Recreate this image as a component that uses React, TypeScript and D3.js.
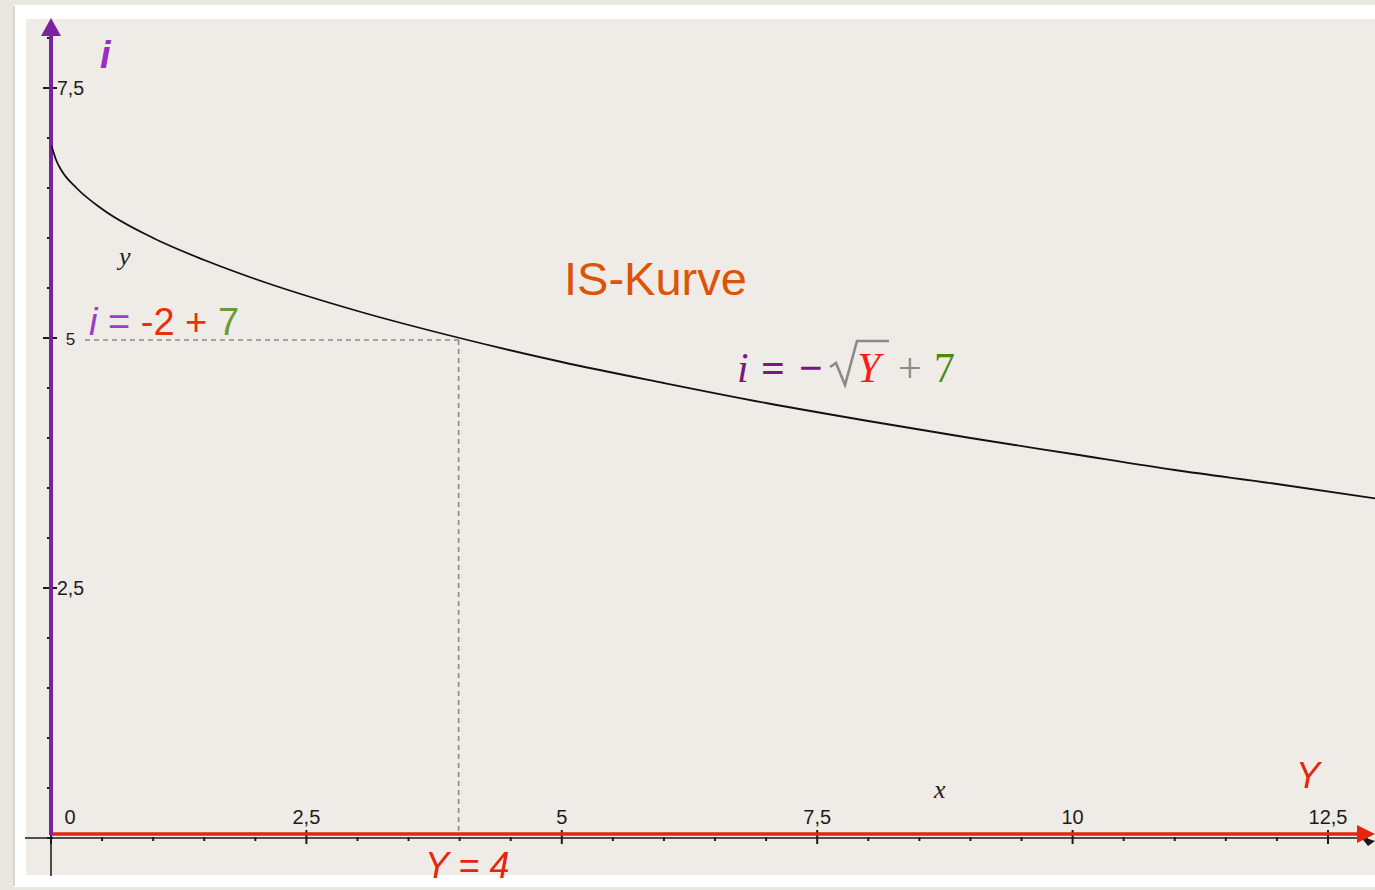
import React from 'react';
import * as d3 from 'd3';

// Y (output) and i (interest rate) along the IS curve
const curveY = [0.006, 0.05, 0.1, 0.25, 0.5, 1, 1.5, 2, 3, 4, 5, 6, 7, 8, 9, 10, 11, 12, 13];
const curveI = [6.92, 6.78, 6.68, 6.5, 6.29, 6.0, 5.78, 5.59, 5.27, 5.0, 4.76, 4.55, 4.35, 4.17, 4.0, 3.84, 3.68, 3.54, 3.39];

const xTickValues = [0, 2.5, 5, 7.5, 10, 12.5];
const xTickLabels = ['0', '2,5', '5', '7,5', '10', '12,5'];
const yTickValues = [2.5, 5, 7.5];
const yTickLabels = ['2,5', '5', '7,5'];

const pointY = 4;
const pointI = 5;

const W = 1375;
const H = 890;

export default function App() {
  const x = d3.scaleLinear().domain([0, 12.5]).range([51, 1328]);
  const y = d3.scaleLinear().domain([0, 7.5]).range([838, 88]);

  const pts: [number, number][] = curveY.map((d, k) => [d, curveI[k]]);
  const line = d3.line<[number, number]>()
    .x(d => x(d[0]))
    .y(d => y(d[1]))
    .curve(d3.curveMonotoneX);

  const minorX = d3.range(0, 13.01, 0.5);
  const minorY = d3.range(0, 8.01, 0.5);

  const tickFont = '"Liberation Sans", Arial, sans-serif';
  const serif = '"Liberation Serif", "Times New Roman", serif';

  return (
    <svg width={W} height={H} style={{ position: 'absolute', left: 0, top: 0 }}>
      <rect x={0} y={0} width={W} height={H} fill="#e8e7e2" />
      <rect x={13} y={5} width={W} height={882} fill="#ffffff" />
      <line x1={14} y1={6} x2={14} y2={886} stroke="#d8d7d2" strokeWidth={2} />
      <rect x={26} y={19} width={W} height={856} fill="#efebe6" />

      {/* dashed guides */}
      <line x1={85} y1={y(pointI) + 2} x2={x(pointY) - 1} y2={y(pointI) + 2}
        stroke="#8a8a8a" strokeWidth={1.6} strokeDasharray="5,4" />
      <line x1={x(pointY) - 1} y1={y(pointI) + 2} x2={x(pointY) - 1} y2={y(0) - 4}
        stroke="#8a8a8a" strokeWidth={1.6} strokeDasharray="5,4" />

      {/* black axes */}
      <line x1={25} y1={y(0)} x2={1368} y2={y(0)} stroke="#1a1a1a" strokeWidth={1.5} />
      <line x1={x(0)} y1={20} x2={x(0)} y2={876} stroke="#1a1a1a" strokeWidth={1.5} />
      <path d={`M1360,${y(0) - 2} L1375,${y(0) + 3} L1368,${y(0) + 8} Z`} fill="#1a1a1a" />

      {/* ticks */}
      {minorX.map(v => {
        const major = xTickValues.includes(v);
        return (
          <line key={'mx' + v} x1={x(v)} x2={x(v)}
            y1={major ? y(0) - 8 : y(0) - 1} y2={major ? y(0) + 6 : y(0) + 3}
            stroke="#1a1a1a" strokeWidth={2} />
        );
      })}
      {minorY.map(v => {
        const major = yTickValues.includes(v);
        return (
          <line key={'my' + v} y1={y(v)} y2={y(v)}
            x1={major ? x(0) - 8 : x(0) - 4} x2={major ? x(0) + 6 : x(0) + 2}
            stroke="#1a1a1a" strokeWidth={2} />
        );
      })}

      {/* coloured axes */}
      <line x1={x(0)} y1={y(0) - 4} x2={1358} y2={y(0) - 4} stroke="#e3260d" strokeWidth={3.5} />
      <path d={`M1357,${y(0) - 13} L1375,${y(0) - 4} L1357,${y(0) + 5} Z`} fill="#e3260d" />
      <line x1={x(0)} y1={y(0) - 3} x2={x(0)} y2={34} stroke="#7b22a0" strokeWidth={4} />
      <path d={`M41,36 L${x(0)},18 L61,36 Z`} fill="#7b22a0" />

      {/* tick labels */}
      {xTickValues.map((v, k) => (
        <text key={'xl' + v} x={v === 0 ? x(v) + 19 : x(v)} y={824}
          textAnchor="middle" fontFamily={tickFont} fontSize={20} fill="#1c1c1c">
          {xTickLabels[k]}
        </text>
      ))}
      {yTickValues.map((v, k) => (
        <text key={'yl' + v} x={70.5} y={y(v) + 7}
          textAnchor="middle" fontFamily={tickFont} fontSize={yTickLabels[k] === '5' ? 17 : 19.5} fill="#1c1c1c">
          {yTickLabels[k]}
        </text>
      ))}

      {/* IS curve */}
      <path d={line(pts) || ''} fill="none" stroke="#111" strokeWidth={1.8} />

      {/* axis names */}
      <text x={100} y={68} fontFamily={tickFont} fontSize={38} fontWeight="bold"
        fontStyle="italic" fill="#9a2ec2">i</text>
      <text x={1296} y={788} fontFamily={tickFont} fontSize={36} fontStyle="italic" fill="#e3260d">Y</text>
      <text x={119} y={265} fontFamily={serif} fontSize={26} fontStyle="italic" fill="#222">y</text>
      <text x={934} y={798} fontFamily={serif} fontSize={26} fontStyle="italic" fill="#222">x</text>

      {/* annotations */}
      <text x={564} y={295} fontFamily={tickFont} fontSize={47} fill="#dc5406">IS-Kurve</text>

      <text x={89} y={335} fontFamily={tickFont} fontSize={38}>
        <tspan fill="#9a3ec6" fontStyle="italic">i</tspan>
        <tspan fill="#9a3ec6"> = </tspan>
        <tspan fill="#e8300c">-2 + </tspan>
        <tspan fill="#6a9a34">7</tspan>
      </text>

      <text x={425} y={878} fontFamily={tickFont} fontSize={36} fontStyle="italic" fill="#e3260d">Y = 4</text>

      <text y={382} fontFamily={serif} fontSize={42}>
        <tspan x={737} fill="#7a1685" fontStyle="italic">i</tspan>
        <tspan x={761} fill="#7a1685" fontWeight="bold">=</tspan>
        <tspan x={799} fill="#7a1685" fontWeight="bold">−</tspan>
        <tspan x={857} fill="#ff1a1a" fontStyle="italic">Y</tspan>
        <tspan x={898} fill="#8a8a8a">+</tspan>
        <tspan x={934} fill="#4a8a12">7</tspan>
      </text>
      {/* radical sign */}
      <path d="M830,367 L836,363 L845,385 L857,341 L889,341"
        fill="none" stroke="#8a8a8a" strokeWidth={2.6} strokeLinejoin="miter" />
    </svg>
  );
}
